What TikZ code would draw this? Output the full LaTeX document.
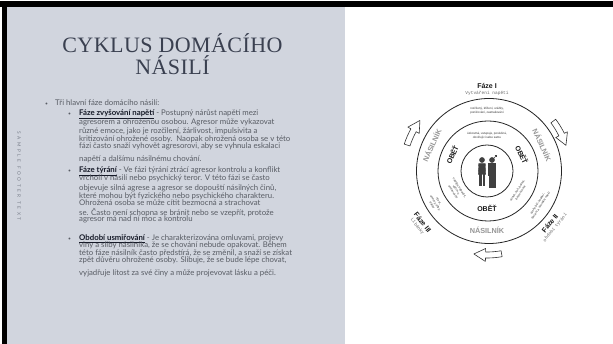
\documentclass[tikz,border=0pt]{standalone}
\usepackage{fontspec}
\setmainfont{Lato}
\newfontfamily\titlef{Liberation Serif}[LetterSpace=2]
\newfontfamily\footf{Lato}[LetterSpace=55]
\newfontfamily\dgf{Liberation Sans}
\newfontfamily\dmono{Liberation Mono}
\definecolor{panel}{RGB}{209,213,222}
\definecolor{bodygray}{RGB}{88,92,100}
\definecolor{headc}{RGB}{22,26,40}
\definecolor{titlec}{RGB}{58,64,80}
\definecolor{footc}{RGB}{118,124,136}
\definecolor{nasc}{RGB}{150,150,150}
\definecolor{subc}{RGB}{105,105,105}
\newcommand\hd[1]{{\color{headc}\bfseries\underline{#1}}}
\tikzset{
  title/.style={anchor=base, inner sep=0, font=\titlef\fontsize{22}{24}\selectfont, text=titlec},
  body/.style={anchor=west, inner sep=0, font=\fontsize{7.8}{8.5}\selectfont, text=bodygray, text height=5, text depth=1.5},
  bul/.style={anchor=west, inner sep=0, font=\fontsize{5}{6}\selectfont, text=bodygray, text height=5, text depth=1.5},
  ring/.style={circle, draw=black!85, line width=0.8, inner sep=0},
  phase/.style={inner sep=0, font=\dgf\bfseries\fontsize{7}{6}\selectfont, text=black!90},
  sub/.style={inner sep=0, font=\dmono\fontsize{4.5}{5}\selectfont, text=subc},
  tiny/.style={inner sep=0, align=center, font=\dgf\fontsize{3}{3.8}\selectfont, text=black!80},
  obet/.style={inner sep=0, font=\dgf\bfseries\fontsize{7}{7}\selectfont, text=black!90},
  nas/.style={inner sep=0, font=\dgf\bfseries\fontsize{7.3}{7}\selectfont, text=nasc},
  cycarrowstyle/.style={draw=black!80, fill=white, line width=0.6, line join=round},
  person/.style={fill=black!75, draw=black!75, line width=0.3}
}
\newcommand\cycarrow[3]{%
  \pgfmathsetmacro\ah{#2+8}%
  \pgfmathsetmacro\ro{#3+3}%
  \pgfmathsetmacro\ri{#3-3}%
  \pgfmathsetmacro\hro{#3+6.5}%
  \pgfmathsetmacro\hri{#3-6.5}%
  \draw[cycarrowstyle] (#1:\ro) arc[start angle=#1, end angle=\ah, radius=\ro]
    -- (\ah:\hro) -- (#2:#3) -- (\ah:\hri) -- (\ah:\ri)
    arc[start angle=\ah, end angle=#1, radius=\ri] -- cycle;}
\begin{document}
\begin{tikzpicture}[x=1pt,y=1pt]
\useasboundingbox (0,0) rectangle (613,344);
\fill[white] (0,0) rectangle (613,344);
\fill[panel] (7,0) rectangle (345,337);
\fill[black] (0,337) rectangle (613,342.5);
\fill[black] (2,0) rectangle (7,342.5);
% title
\node[title] (t1) at (172.5,291) {CYKLUS DOMÁCÍHO};
\node[title] (t2) at (172.5,269) {NÁSILÍ};
% footer
\node[rotate=-90, inner sep=0, font=\footf\fontsize{4.7}{5}\selectfont, text=footc] (footer) at (19,168) {SAMPLE FOOTER TEXT};
% bullets
\node[bul] (b0) at (45,240) {\textbullet};
\node[bul] (b1) at (68,230) {\textbullet};
\node[bul] (b2) at (68,173.5) {\textbullet};
\node[bul] (b3) at (68,105) {\textbullet};
% text
\node[body] (l0) at (55,240) {Tři hlavní fáze domácího násilí:};
\node[body] (l1) at (79,230) {\hd{Fáze zvyšování napětí} - Postupný nárůst napětí mezi};
\node[body] (l2) at (79,221.7) {agresorem a ohroženou osobou. Agresor může vykazovat};
\node[body] (l3) at (79,212.3) {různé emoce, jako je rozčilení, žárlivost, impulsivita a};
\node[body] (l4) at (79,204) {kritizování ohrožené osoby.\ \ Naopak ohrožená osoba se v této};
\node[body] (l5) at (79,197.5) {fázi často snaží vyhovět agresorovi, aby se vyhnula eskalaci};
\node[body] (l6) at (79,184.5) {napětí a dalšímu násilnému chování.};
\node[body] (l7) at (79,173.5) {\hd{Fáze týrání} - Ve fázi týrání ztrácí agresor kontrolu a konflikt};
\node[body] (l8) at (79,165) {vrcholí v násilí nebo psychický teror. V této fázi se často};
\node[body] (l9) at (79,155.7) {objevuje silná agrese a agresor se dopouští násilných činů,};
\node[body] (l10) at (79,147.3) {které mohou být fyzického nebo psychického charakteru.};
\node[body] (l11) at (79,140.7) {Ohrožená osoba se může cítit bezmocná a strachovat};
\node[body] (l12) at (79,130.7) {se. Často není schopna se bránit nebo se vzepřít, protože};
\node[body] (l13) at (79,124) {agresor má nad ní moc a kontrolu};
\node[body] (l14) at (79,105) {\hd{Období usmiřování} - Je charakterizována omluvami, projevy};
\node[body] (l15) at (79,98.5) {viny a sliby násilníka, že se chování nebude opakovat. Během};
\node[body] (l16) at (79,90.5) {této fáze násilník často předstírá, že se změnil, a snaží se získat};
\node[body] (l17) at (79,83) {zpět důvěru ohrožené osoby. Slibuje, že se bude lépe chovat,};
\node[body] (l18) at (79,70.5) {vyjadřuje lítost za své činy a může projevovat lásku a péči.};
% cycle diagram
\begin{scope}[shift={(487,173)}]
  \node[ring, minimum size=145] (outer) at (2,0) {};
  \node[ring, minimum size=100] (middle) at (1,0) {};
  \node[ring, minimum size=52] (inner) at (0,0) {};
  \cycarrow{162}{143}{84}
  \cycarrow{37}{18}{83}
  \cycarrow{280}{261}{84}
  \node[phase] (f1) at (0,85.5) {Fáze I};
  \node[sub] (f1s) at (0,78) {Vytváření napětí};
  \node[tiny] (ttop) at (0,60) {rozčilený, křičení, urážky,\\ponižování, zastrašování};
  \node[tiny] (tin) at (0,35.5) {úzkostná, ustupuje, poslušná,\\obviňující sebe samu};
  \node[obet, rotate=65] (o1) at (155:38.5) {OBĚŤ};
  \node[obet, rotate=-65] (o2) at (25:38.5) {OBĚŤ};
  \node[obet] (o3) at (-90:37) {OBĚŤ};
  \node[nas, rotate=65] (n1) at (155:61) {NÁSILNÍK};
  \node[nas, rotate=-65] (n2) at (25:61) {NÁSILNÍK};
  \node[nas] (n3) at (-90:59) {NÁSILNÍK};
  \node[tiny, rotate=-58] (tll) at (212:36) {naděje, odpouští,\\věří mu,\\omlouvá ho};
  \node[tiny, rotate=-58] (tlo) at (212:61) {lítost,\\omluvy, sliby,\\dárky};
  \node[tiny, rotate=57] (tri) at (-33:38) {strach, šok, bolest,\\bezmocnost};
  \node[tiny, rotate=57] (tro) at (-33:62) {útoky, bití, kopání,\\škrcení a sexuální násilí};
  \node[phase, rotate=-52, align=center] (f3) at (218.6:85.5) {Fáze III\\[-0.5pt]{\dmono\mdseries\fontsize{4.5}{5}\selectfont\color{subc}Líbánky}};
  \node[phase, rotate=51, align=center] (f2) at (-39.8:85) {Fáze II\\[-0.5pt]{\dmono\mdseries\fontsize{4.5}{5}\selectfont\color{subc}období týrání}};
  % figures
  \fill[person] (-5,11) circle (2.6);
  \fill[person] (-8.3,7.5) -- (-1.7,7.5) -- (-1.2,-3.5) -- (-8.8,-3.5) -- cycle;
  \fill[person] (-7.4,-3.5) rectangle (-5.8,-14.5);
  \fill[person] (-4.2,-3.5) rectangle (-2.6,-14.5);
  \fill[person] (5,11) circle (2.6);
  \fill[person] (1.6,7.5) rectangle (8.4,-4);
  \fill[person] (2,-4) rectangle (4.6,-16);
  \fill[person] (5.4,-4) rectangle (8,-16);
  \draw[black!75, line width=0.6] (6.8,12.8) -- (9.3,15.3);
  \draw[black!75, line width=0.5] (7.6,15.4) -- (9.4,15.4) -- (9.4,13.6);
\end{scope}
\end{tikzpicture}
\end{document}
